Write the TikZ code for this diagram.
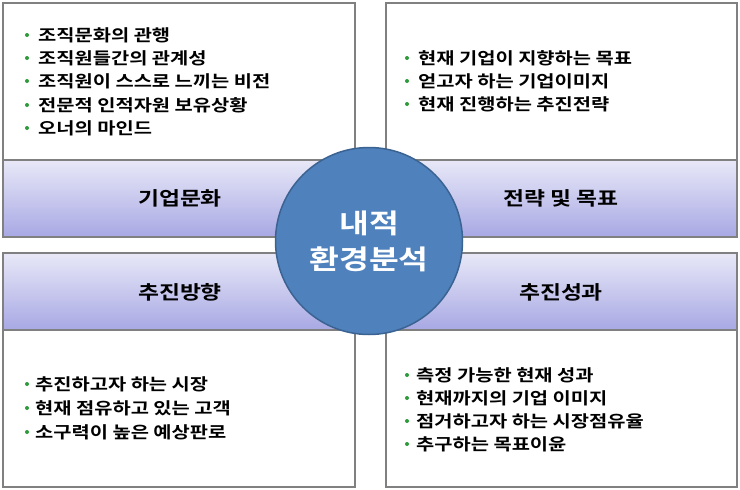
\documentclass[tikz,border=0pt]{standalone}
\usepackage{fontspec}
\setmainfont{Noto Sans CJK KR}[BoldFont={* Bold},BoldFeatures={FakeStretch=1.2}]
\definecolor{bord}{HTML}{808080}
\definecolor{bandtop}{HTML}{E8E8F8}
\definecolor{bandbot}{HTML}{A8A8E4}
\definecolor{circ}{HTML}{4F81BD}
\definecolor{circb}{HTML}{3B6392}
\definecolor{bul}{HTML}{2E9A3A}
\begin{document}
\begin{tikzpicture}[x=1pt,y=-1pt,
  panel/.style={draw=bord,line width=2pt,fill=white},
  band/.style={draw=bord,line width=2pt,top color=bandtop,bottom color=bandbot},
  title/.style={font=\bfseries\fontsize{19}{22}\selectfont},
  item/.style={anchor=west,font=\bfseries\fontsize{16.5}{18}\selectfont,inner sep=0pt},
  dot/.style={circle,fill=bul,inner sep=0pt,minimum size=4pt}]
\useasboundingbox (0,0) rectangle (740,490);
\draw[panel] (3,3) rectangle (355,237);
\draw[panel] (386,3) rectangle (737,237);
\draw[panel] (3,253) rectangle (355,487);
\draw[panel] (386,253) rectangle (737,487);
\draw[band] (3,160) rectangle (355,237);
\draw[band] (386,160) rectangle (737,237);
\draw[band] (3,253) rectangle (355,330);
\draw[band] (386,253) rectangle (737,330);
\node[title] (t1) at (180,198) {기업문화};
\node[title] (t2) at (561,198) {전략 및 목표};
\node[title] (t3) at (180,292) {추진방향};
\node[title] (t4) at (561,292) {추진성과};
\foreach \y/\t [count=\i] in {35/조직문화의 관행,58/조직원들간의 관계성,81/조직원이 스스로 느끼는 비전,105/전문적 인적자원 보유상황,128/오너의 마인드}{
  \node[dot] (a\i) at (27,\y) {}; \node[item] (at\i) at (38,\y) {\t};}
\foreach \y/\t [count=\i] in {58/현재 기업이 지향하는 목표,81/얻고자 하는 기업이미지,104/현재 진행하는 추진전략}{
  \node[dot] (b\i) at (407,\y) {}; \node[item] (bt\i) at (418,\y) {\t};}
\foreach \y/\t [count=\i] in {384/추진하고자 하는 시장,408/현재 점유하고 있는 고객,432/소구력이 높은 예상판로}{
  \node[dot] (c\i) at (27,\y) {}; \node[item] (ct\i) at (35,\y) {\t};}
\foreach \y/\t [count=\i] in {375/측정 가능한 현재 성과,398/현재까지의 기업 이미지,421/점거하고자 하는 시장점유율,444/추구하는 목표이윤}{
  \node[dot] (d\i) at (407,\y) {}; \node[item] (dt\i) at (416,\y) {\t};}
\node[circle,draw=circb,line width=1.5pt,fill=circ,minimum size=187pt,
  text=white,font=\bfseries\fontsize{27}{36}\selectfont,align=center] (c) at (369,241) {내적\\환경분석};
\end{tikzpicture}
\end{document}
